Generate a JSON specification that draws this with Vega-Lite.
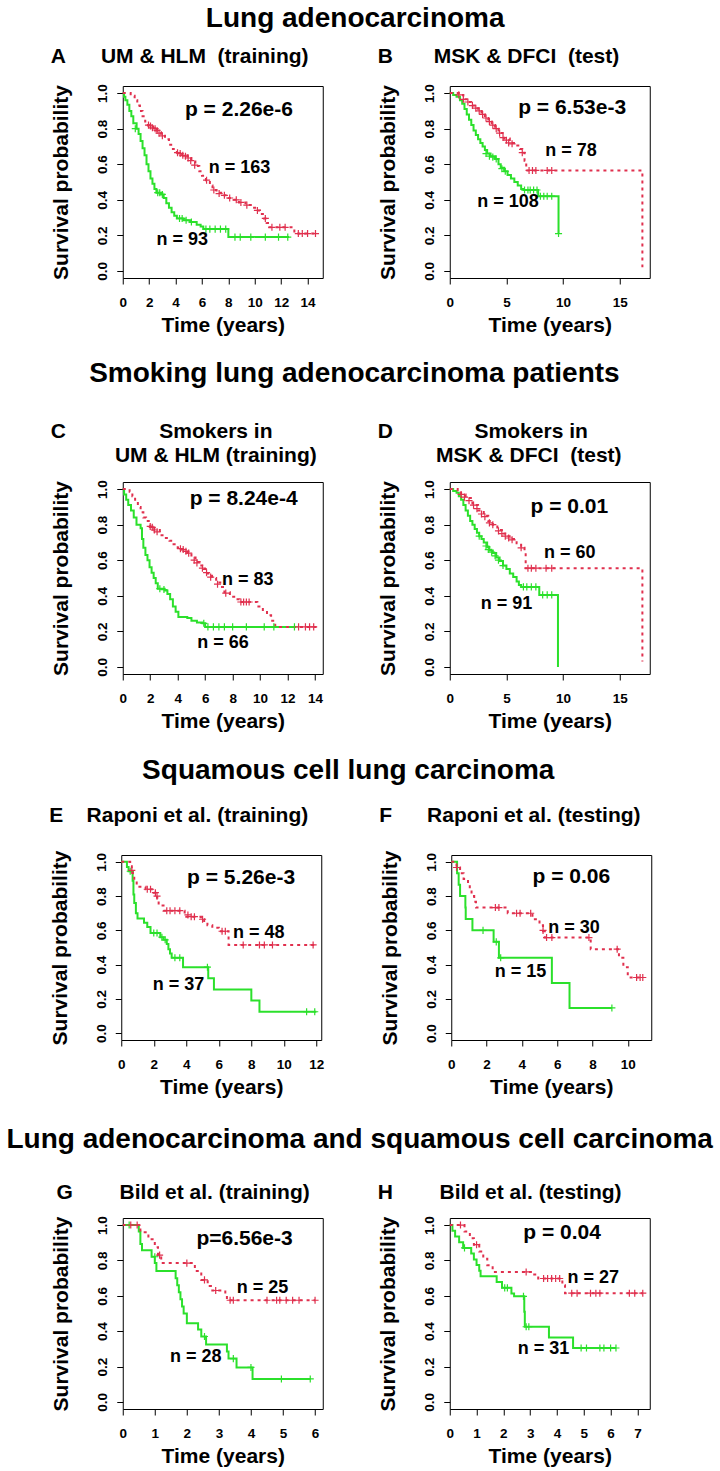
{
"$schema": "https://vega.github.io/schema/vega-lite/v6.json",
"padding": {"left": 6, "right": 4, "top": 5, "bottom": 5},
"config": {
 "font": "Liberation Sans",
 "view": {"stroke": "#000", "strokeWidth": 1},
 "axis": {"domain": false, "grid": false, "tickColor": "#000", "tickSize": 6, "labelFont": "Liberation Sans", "labelFontWeight": "bold", "labelFontSize": 13.5, "labelColor": "#000", "titleFont": "Liberation Sans", "titleFontWeight": "bold", "titleFontSize": 21, "titleColor": "#000", "labelOverlap": false, "labelFlush": false},
 "axisX": {"labelPadding": 11, "titlePadding": 6},
 "axisY": {"labelAngle": -90, "labelAlign": "center", "labelBaseline": "bottom", "labelPadding": 7, "titlePadding": 24},
 "title": {"font": "Liberation Sans", "fontWeight": "bold", "color": "#000"}
},
"datasets": {
"km": [
{"p":"A","g":"H","t":0,"s":1},{"p":"A","g":"H","t":0.1,"s":0.98},{"p":"A","g":"H","t":0.2,"s":0.96},{"p":"A","g":"H","t":0.35,"s":0.935},{"p":"A","g":"H","t":0.5,"s":0.9},{"p":"A","g":"H","t":0.65,"s":0.87},{"p":"A","g":"H","t":0.8,"s":0.83},{"p":"A","g":"H","t":1.05,"s":0.8},{"p":"A","g":"H","t":1.2,"s":0.77},{"p":"A","g":"H","t":1.35,"s":0.73},{"p":"A","g":"H","t":1.5,"s":0.69},{"p":"A","g":"H","t":1.65,"s":0.65},{"p":"A","g":"H","t":1.8,"s":0.6},{"p":"A","g":"H","t":1.95,"s":0.56},{"p":"A","g":"H","t":2.1,"s":0.52},{"p":"A","g":"H","t":2.25,"s":0.49},{"p":"A","g":"H","t":2.4,"s":0.46},{"p":"A","g":"H","t":2.55,"s":0.44},{"p":"A","g":"H","t":2.9,"s":0.43},{"p":"A","g":"H","t":3.1,"s":0.41},{"p":"A","g":"H","t":3.3,"s":0.38},{"p":"A","g":"H","t":3.5,"s":0.355},{"p":"A","g":"H","t":3.7,"s":0.33},{"p":"A","g":"H","t":3.9,"s":0.31},{"p":"A","g":"H","t":4.1,"s":0.295},{"p":"A","g":"H","t":4.6,"s":0.285},{"p":"A","g":"H","t":5.1,"s":0.275},{"p":"A","g":"H","t":5.6,"s":0.26},{"p":"A","g":"H","t":5.9,"s":0.25},{"p":"A","g":"H","t":6.1,"s":0.235},{"p":"A","g":"H","t":8.0,"s":0.19},{"p":"A","g":"H","t":12.6,"s":0.19},
{"p":"A","g":"L","t":0,"s":1},{"p":"A","g":"L","t":0.6,"s":0.985},{"p":"A","g":"L","t":0.9,"s":0.96},{"p":"A","g":"L","t":1.1,"s":0.93},{"p":"A","g":"L","t":1.3,"s":0.9},{"p":"A","g":"L","t":1.5,"s":0.87},{"p":"A","g":"L","t":1.7,"s":0.84},{"p":"A","g":"L","t":1.9,"s":0.82},{"p":"A","g":"L","t":2.3,"s":0.8},{"p":"A","g":"L","t":2.6,"s":0.78},{"p":"A","g":"L","t":2.9,"s":0.76},{"p":"A","g":"L","t":3.2,"s":0.74},{"p":"A","g":"L","t":3.5,"s":0.71},{"p":"A","g":"L","t":3.8,"s":0.685},{"p":"A","g":"L","t":4.1,"s":0.665},{"p":"A","g":"L","t":4.5,"s":0.65},{"p":"A","g":"L","t":4.9,"s":0.635},{"p":"A","g":"L","t":5.2,"s":0.615},{"p":"A","g":"L","t":5.5,"s":0.59},{"p":"A","g":"L","t":5.8,"s":0.56},{"p":"A","g":"L","t":6.0,"s":0.535},{"p":"A","g":"L","t":6.3,"s":0.51},{"p":"A","g":"L","t":6.6,"s":0.48},{"p":"A","g":"L","t":6.8,"s":0.455},{"p":"A","g":"L","t":7.1,"s":0.44},{"p":"A","g":"L","t":7.6,"s":0.425},{"p":"A","g":"L","t":8.0,"s":0.41},{"p":"A","g":"L","t":8.4,"s":0.4},{"p":"A","g":"L","t":8.8,"s":0.385},{"p":"A","g":"L","t":9.3,"s":0.37},{"p":"A","g":"L","t":9.7,"s":0.355},{"p":"A","g":"L","t":10.1,"s":0.34},{"p":"A","g":"L","t":10.4,"s":0.32},{"p":"A","g":"L","t":10.7,"s":0.295},{"p":"A","g":"L","t":10.9,"s":0.27},{"p":"A","g":"L","t":11.1,"s":0.245},{"p":"A","g":"L","t":13.0,"s":0.21},{"p":"A","g":"L","t":14.6,"s":0.21},
{"p":"B","g":"H","t":0,"s":1},{"p":"B","g":"H","t":0.3,"s":0.99},{"p":"B","g":"H","t":0.6,"s":0.98},{"p":"B","g":"H","t":0.9,"s":0.96},{"p":"B","g":"H","t":1.1,"s":0.94},{"p":"B","g":"H","t":1.3,"s":0.91},{"p":"B","g":"H","t":1.5,"s":0.88},{"p":"B","g":"H","t":1.7,"s":0.85},{"p":"B","g":"H","t":1.9,"s":0.82},{"p":"B","g":"H","t":2.1,"s":0.79},{"p":"B","g":"H","t":2.3,"s":0.765},{"p":"B","g":"H","t":2.5,"s":0.74},{"p":"B","g":"H","t":2.7,"s":0.72},{"p":"B","g":"H","t":2.9,"s":0.7},{"p":"B","g":"H","t":3.1,"s":0.68},{"p":"B","g":"H","t":3.3,"s":0.66},{"p":"B","g":"H","t":3.6,"s":0.645},{"p":"B","g":"H","t":4.0,"s":0.63},{"p":"B","g":"H","t":4.3,"s":0.6},{"p":"B","g":"H","t":4.5,"s":0.58},{"p":"B","g":"H","t":4.8,"s":0.56},{"p":"B","g":"H","t":5.1,"s":0.54},{"p":"B","g":"H","t":5.4,"s":0.52},{"p":"B","g":"H","t":5.7,"s":0.5},{"p":"B","g":"H","t":6.0,"s":0.48},{"p":"B","g":"H","t":6.3,"s":0.46},{"p":"B","g":"H","t":6.5,"s":0.455},{"p":"B","g":"H","t":7.8,"s":0.42},{"p":"B","g":"H","t":9.6,"s":0.21},
{"p":"B","g":"L","t":0,"s":1},{"p":"B","g":"L","t":0.8,"s":0.99},{"p":"B","g":"L","t":1.2,"s":0.965},{"p":"B","g":"L","t":1.5,"s":0.95},{"p":"B","g":"L","t":1.9,"s":0.93},{"p":"B","g":"L","t":2.2,"s":0.915},{"p":"B","g":"L","t":2.5,"s":0.9},{"p":"B","g":"L","t":2.8,"s":0.88},{"p":"B","g":"L","t":3.1,"s":0.86},{"p":"B","g":"L","t":3.4,"s":0.84},{"p":"B","g":"L","t":3.7,"s":0.82},{"p":"B","g":"L","t":4.0,"s":0.8},{"p":"B","g":"L","t":4.3,"s":0.775},{"p":"B","g":"L","t":4.8,"s":0.745},{"p":"B","g":"L","t":5.3,"s":0.72},{"p":"B","g":"L","t":5.8,"s":0.705},{"p":"B","g":"L","t":6.2,"s":0.685},{"p":"B","g":"L","t":6.4,"s":0.665},{"p":"B","g":"L","t":6.6,"s":0.62},{"p":"B","g":"L","t":6.75,"s":0.565},{"p":"B","g":"L","t":17.0,"s":0.02},
{"p":"C","g":"H","t":0,"s":1},{"p":"C","g":"H","t":0.1,"s":0.97},{"p":"C","g":"H","t":0.25,"s":0.94},{"p":"C","g":"H","t":0.4,"s":0.91},{"p":"C","g":"H","t":0.6,"s":0.88},{"p":"C","g":"H","t":0.8,"s":0.84},{"p":"C","g":"H","t":1.0,"s":0.8},{"p":"C","g":"H","t":1.3,"s":0.78},{"p":"C","g":"H","t":1.4,"s":0.72},{"p":"C","g":"H","t":1.5,"s":0.67},{"p":"C","g":"H","t":1.65,"s":0.63},{"p":"C","g":"H","t":1.8,"s":0.6},{"p":"C","g":"H","t":1.95,"s":0.56},{"p":"C","g":"H","t":2.1,"s":0.53},{"p":"C","g":"H","t":2.25,"s":0.5},{"p":"C","g":"H","t":2.4,"s":0.47},{"p":"C","g":"H","t":2.55,"s":0.44},{"p":"C","g":"H","t":3.05,"s":0.43},{"p":"C","g":"H","t":3.25,"s":0.41},{"p":"C","g":"H","t":3.45,"s":0.38},{"p":"C","g":"H","t":3.65,"s":0.34},{"p":"C","g":"H","t":3.85,"s":0.31},{"p":"C","g":"H","t":4.05,"s":0.28},{"p":"C","g":"H","t":4.7,"s":0.275},{"p":"C","g":"H","t":5.0,"s":0.26},{"p":"C","g":"H","t":5.4,"s":0.25},{"p":"C","g":"H","t":5.8,"s":0.245},{"p":"C","g":"H","t":6.0,"s":0.225},{"p":"C","g":"H","t":12.5,"s":0.225},
{"p":"C","g":"L","t":0,"s":1},{"p":"C","g":"L","t":0.5,"s":0.985},{"p":"C","g":"L","t":0.7,"s":0.96},{"p":"C","g":"L","t":0.9,"s":0.93},{"p":"C","g":"L","t":1.1,"s":0.9},{"p":"C","g":"L","t":1.3,"s":0.87},{"p":"C","g":"L","t":1.5,"s":0.84},{"p":"C","g":"L","t":1.7,"s":0.82},{"p":"C","g":"L","t":2.0,"s":0.79},{"p":"C","g":"L","t":2.3,"s":0.77},{"p":"C","g":"L","t":2.7,"s":0.74},{"p":"C","g":"L","t":3.0,"s":0.725},{"p":"C","g":"L","t":3.4,"s":0.71},{"p":"C","g":"L","t":3.7,"s":0.69},{"p":"C","g":"L","t":4.0,"s":0.67},{"p":"C","g":"L","t":4.3,"s":0.66},{"p":"C","g":"L","t":4.7,"s":0.64},{"p":"C","g":"L","t":5.0,"s":0.615},{"p":"C","g":"L","t":5.3,"s":0.59},{"p":"C","g":"L","t":5.6,"s":0.57},{"p":"C","g":"L","t":5.9,"s":0.55},{"p":"C","g":"L","t":6.2,"s":0.525},{"p":"C","g":"L","t":6.5,"s":0.5},{"p":"C","g":"L","t":6.8,"s":0.475},{"p":"C","g":"L","t":7.1,"s":0.45},{"p":"C","g":"L","t":7.4,"s":0.42},{"p":"C","g":"L","t":7.8,"s":0.395},{"p":"C","g":"L","t":8.2,"s":0.38},{"p":"C","g":"L","t":8.5,"s":0.365},{"p":"C","g":"L","t":9.8,"s":0.34},{"p":"C","g":"L","t":10.2,"s":0.32},{"p":"C","g":"L","t":10.5,"s":0.29},{"p":"C","g":"L","t":10.8,"s":0.26},{"p":"C","g":"L","t":11.1,"s":0.225},{"p":"C","g":"L","t":14.1,"s":0.225},
{"p":"D","g":"H","t":0,"s":1},{"p":"D","g":"H","t":0.3,"s":0.99},{"p":"D","g":"H","t":0.6,"s":0.98},{"p":"D","g":"H","t":0.8,"s":0.96},{"p":"D","g":"H","t":1.0,"s":0.94},{"p":"D","g":"H","t":1.2,"s":0.91},{"p":"D","g":"H","t":1.4,"s":0.88},{"p":"D","g":"H","t":1.6,"s":0.85},{"p":"D","g":"H","t":1.8,"s":0.82},{"p":"D","g":"H","t":2.0,"s":0.8},{"p":"D","g":"H","t":2.2,"s":0.775},{"p":"D","g":"H","t":2.4,"s":0.755},{"p":"D","g":"H","t":2.6,"s":0.735},{"p":"D","g":"H","t":2.8,"s":0.72},{"p":"D","g":"H","t":3.0,"s":0.7},{"p":"D","g":"H","t":3.3,"s":0.675},{"p":"D","g":"H","t":3.5,"s":0.655},{"p":"D","g":"H","t":3.8,"s":0.64},{"p":"D","g":"H","t":4.1,"s":0.615},{"p":"D","g":"H","t":4.4,"s":0.595},{"p":"D","g":"H","t":4.7,"s":0.57},{"p":"D","g":"H","t":5.0,"s":0.55},{"p":"D","g":"H","t":5.3,"s":0.525},{"p":"D","g":"H","t":5.6,"s":0.505},{"p":"D","g":"H","t":5.9,"s":0.48},{"p":"D","g":"H","t":6.1,"s":0.46},{"p":"D","g":"H","t":6.3,"s":0.45},{"p":"D","g":"H","t":7.9,"s":0.405},{"p":"D","g":"H","t":9.55,"s":0},
{"p":"D","g":"L","t":0,"s":1},{"p":"D","g":"L","t":0.7,"s":0.985},{"p":"D","g":"L","t":1.0,"s":0.97},{"p":"D","g":"L","t":1.4,"s":0.95},{"p":"D","g":"L","t":2.0,"s":0.91},{"p":"D","g":"L","t":2.5,"s":0.88},{"p":"D","g":"L","t":3.0,"s":0.85},{"p":"D","g":"L","t":3.4,"s":0.82},{"p":"D","g":"L","t":3.8,"s":0.8},{"p":"D","g":"L","t":4.2,"s":0.77},{"p":"D","g":"L","t":4.6,"s":0.75},{"p":"D","g":"L","t":5.0,"s":0.735},{"p":"D","g":"L","t":5.4,"s":0.72},{"p":"D","g":"L","t":5.9,"s":0.695},{"p":"D","g":"L","t":6.3,"s":0.67},{"p":"D","g":"L","t":6.6,"s":0.64},{"p":"D","g":"L","t":6.7,"s":0.555},{"p":"D","g":"L","t":17.0,"s":0.03},
{"p":"E","g":"H","t":0,"s":1},{"p":"E","g":"H","t":0.35,"s":0.97},{"p":"E","g":"H","t":0.45,"s":0.945},{"p":"E","g":"H","t":0.7,"s":0.89},{"p":"E","g":"H","t":0.75,"s":0.81},{"p":"E","g":"H","t":0.8,"s":0.76},{"p":"E","g":"H","t":0.9,"s":0.7},{"p":"E","g":"H","t":1.0,"s":0.67},{"p":"E","g":"H","t":1.4,"s":0.645},{"p":"E","g":"H","t":1.6,"s":0.62},{"p":"E","g":"H","t":1.8,"s":0.585},{"p":"E","g":"H","t":2.4,"s":0.56},{"p":"E","g":"H","t":2.6,"s":0.545},{"p":"E","g":"H","t":2.8,"s":0.52},{"p":"E","g":"H","t":2.9,"s":0.49},{"p":"E","g":"H","t":3.0,"s":0.465},{"p":"E","g":"H","t":3.1,"s":0.44},{"p":"E","g":"H","t":3.8,"s":0.385},{"p":"E","g":"H","t":5.35,"s":0.32},{"p":"E","g":"H","t":5.7,"s":0.255},{"p":"E","g":"H","t":8.0,"s":0.19},{"p":"E","g":"H","t":8.5,"s":0.125},{"p":"E","g":"H","t":12.0,"s":0.125},
{"p":"E","g":"L","t":0,"s":1},{"p":"E","g":"L","t":0.55,"s":0.975},{"p":"E","g":"L","t":0.65,"s":0.95},{"p":"E","g":"L","t":0.72,"s":0.915},{"p":"E","g":"L","t":0.8,"s":0.88},{"p":"E","g":"L","t":0.95,"s":0.855},{"p":"E","g":"L","t":1.5,"s":0.84},{"p":"E","g":"L","t":2.0,"s":0.82},{"p":"E","g":"L","t":2.2,"s":0.79},{"p":"E","g":"L","t":2.3,"s":0.745},{"p":"E","g":"L","t":2.6,"s":0.715},{"p":"E","g":"L","t":3.9,"s":0.69},{"p":"E","g":"L","t":4.0,"s":0.68},{"p":"E","g":"L","t":4.9,"s":0.665},{"p":"E","g":"L","t":5.1,"s":0.645},{"p":"E","g":"L","t":5.3,"s":0.63},{"p":"E","g":"L","t":5.6,"s":0.615},{"p":"E","g":"L","t":6.0,"s":0.595},{"p":"E","g":"L","t":6.6,"s":0.515},{"p":"E","g":"L","t":11.9,"s":0.515},
{"p":"F","g":"H","t":0,"s":1},{"p":"F","g":"H","t":0.33,"s":0.933},{"p":"F","g":"H","t":0.42,"s":0.867},{"p":"F","g":"H","t":0.5,"s":0.8},{"p":"F","g":"H","t":0.8,"s":0.733},{"p":"F","g":"H","t":0.82,"s":0.667},{"p":"F","g":"H","t":1.2,"s":0.6},{"p":"F","g":"H","t":2.4,"s":0.533},{"p":"F","g":"H","t":2.7,"s":0.44},{"p":"F","g":"H","t":5.7,"s":0.293},{"p":"F","g":"H","t":6.7,"s":0.147},{"p":"F","g":"H","t":9.1,"s":0.147},
{"p":"F","g":"L","t":0,"s":1},{"p":"F","g":"L","t":0.3,"s":0.967},{"p":"F","g":"L","t":0.5,"s":0.933},{"p":"F","g":"L","t":0.7,"s":0.9},{"p":"F","g":"L","t":0.95,"s":0.867},{"p":"F","g":"L","t":1.05,"s":0.833},{"p":"F","g":"L","t":1.15,"s":0.8},{"p":"F","g":"L","t":1.3,"s":0.767},{"p":"F","g":"L","t":1.4,"s":0.733},{"p":"F","g":"L","t":3.2,"s":0.7},{"p":"F","g":"L","t":4.6,"s":0.665},{"p":"F","g":"L","t":5.0,"s":0.63},{"p":"F","g":"L","t":5.2,"s":0.595},{"p":"F","g":"L","t":5.3,"s":0.558},{"p":"F","g":"L","t":7.9,"s":0.49},{"p":"F","g":"L","t":9.5,"s":0.44},{"p":"F","g":"L","t":9.75,"s":0.385},{"p":"F","g":"L","t":10.0,"s":0.325},{"p":"F","g":"L","t":10.9,"s":0.325},
{"p":"G","g":"H","t":0,"s":1},{"p":"G","g":"H","t":0.5,"s":0.964},{"p":"G","g":"H","t":0.55,"s":0.893},{"p":"G","g":"H","t":0.6,"s":0.857},{"p":"G","g":"H","t":0.9,"s":0.821},{"p":"G","g":"H","t":1.0,"s":0.786},{"p":"G","g":"H","t":1.05,"s":0.74},{"p":"G","g":"H","t":1.65,"s":0.7},{"p":"G","g":"H","t":1.7,"s":0.66},{"p":"G","g":"H","t":1.75,"s":0.62},{"p":"G","g":"H","t":1.8,"s":0.58},{"p":"G","g":"H","t":1.85,"s":0.54},{"p":"G","g":"H","t":1.9,"s":0.5},{"p":"G","g":"H","t":2.0,"s":0.445},{"p":"G","g":"H","t":2.35,"s":0.41},{"p":"G","g":"H","t":2.45,"s":0.37},{"p":"G","g":"H","t":2.6,"s":0.325},{"p":"G","g":"H","t":3.25,"s":0.285},{"p":"G","g":"H","t":3.3,"s":0.245},{"p":"G","g":"H","t":3.55,"s":0.195},{"p":"G","g":"H","t":4.05,"s":0.13},{"p":"G","g":"H","t":5.85,"s":0.13},
{"p":"G","g":"L","t":0,"s":1},{"p":"G","g":"L","t":0.55,"s":0.96},{"p":"G","g":"L","t":0.8,"s":0.92},{"p":"G","g":"L","t":1.0,"s":0.875},{"p":"G","g":"L","t":1.1,"s":0.83},{"p":"G","g":"L","t":1.2,"s":0.785},{"p":"G","g":"L","t":2.25,"s":0.74},{"p":"G","g":"L","t":2.45,"s":0.69},{"p":"G","g":"L","t":2.65,"s":0.655},{"p":"G","g":"L","t":2.75,"s":0.63},{"p":"G","g":"L","t":3.2,"s":0.6},{"p":"G","g":"L","t":3.25,"s":0.575},{"p":"G","g":"L","t":6.0,"s":0.575},
{"p":"H","g":"H","t":0,"s":1},{"p":"H","g":"H","t":0.1,"s":0.968},{"p":"H","g":"H","t":0.2,"s":0.935},{"p":"H","g":"H","t":0.35,"s":0.903},{"p":"H","g":"H","t":0.5,"s":0.871},{"p":"H","g":"H","t":0.8,"s":0.839},{"p":"H","g":"H","t":0.9,"s":0.806},{"p":"H","g":"H","t":1.0,"s":0.774},{"p":"H","g":"H","t":1.1,"s":0.742},{"p":"H","g":"H","t":1.15,"s":0.71},{"p":"H","g":"H","t":1.75,"s":0.678},{"p":"H","g":"H","t":1.95,"s":0.645},{"p":"H","g":"H","t":2.3,"s":0.613},{"p":"H","g":"H","t":2.4,"s":0.597},{"p":"H","g":"H","t":2.78,"s":0.51},{"p":"H","g":"H","t":2.8,"s":0.425},{"p":"H","g":"H","t":3.7,"s":0.365},{"p":"H","g":"H","t":4.6,"s":0.305},{"p":"H","g":"H","t":6.2,"s":0.305},
{"p":"H","g":"L","t":0,"s":1},{"p":"H","g":"L","t":0.55,"s":0.963},{"p":"H","g":"L","t":0.75,"s":0.926},{"p":"H","g":"L","t":0.9,"s":0.889},{"p":"H","g":"L","t":1.1,"s":0.85},{"p":"H","g":"L","t":1.25,"s":0.81},{"p":"H","g":"L","t":1.4,"s":0.773},{"p":"H","g":"L","t":1.6,"s":0.735},{"p":"H","g":"L","t":3.1,"s":0.72},{"p":"H","g":"L","t":3.3,"s":0.698},{"p":"H","g":"L","t":4.2,"s":0.66},{"p":"H","g":"L","t":4.3,"s":0.615},{"p":"H","g":"L","t":7.2,"s":0.615}
],
"cens": [
{"p":"A","g":"H","t":0.95,"s":0.8},{"p":"A","g":"H","t":2.65,"s":0.44},{"p":"A","g":"H","t":2.8,"s":0.44},{"p":"A","g":"H","t":3.0,"s":0.43},{"p":"A","g":"H","t":4.3,"s":0.295},{"p":"A","g":"H","t":4.5,"s":0.295},{"p":"A","g":"H","t":4.8,"s":0.285},{"p":"A","g":"H","t":5.2,"s":0.275},{"p":"A","g":"H","t":6.3,"s":0.235},{"p":"A","g":"H","t":6.6,"s":0.235},{"p":"A","g":"H","t":7.0,"s":0.235},{"p":"A","g":"H","t":7.4,"s":0.235},{"p":"A","g":"H","t":7.8,"s":0.235},{"p":"A","g":"H","t":8.5,"s":0.19},{"p":"A","g":"H","t":8.9,"s":0.19},{"p":"A","g":"H","t":9.7,"s":0.19},{"p":"A","g":"H","t":10.8,"s":0.19},{"p":"A","g":"H","t":11.8,"s":0.19},{"p":"A","g":"H","t":12.5,"s":0.19},
{"p":"A","g":"L","t":1.95,"s":0.82},{"p":"A","g":"L","t":2.1,"s":0.815},{"p":"A","g":"L","t":2.25,"s":0.805},{"p":"A","g":"L","t":2.45,"s":0.8},{"p":"A","g":"L","t":2.6,"s":0.79},{"p":"A","g":"L","t":2.75,"s":0.775},{"p":"A","g":"L","t":3.0,"s":0.76},{"p":"A","g":"L","t":4.15,"s":0.665},{"p":"A","g":"L","t":4.35,"s":0.66},{"p":"A","g":"L","t":4.55,"s":0.65},{"p":"A","g":"L","t":4.75,"s":0.645},{"p":"A","g":"L","t":4.95,"s":0.635},{"p":"A","g":"L","t":5.15,"s":0.62},{"p":"A","g":"L","t":5.45,"s":0.595},{"p":"A","g":"L","t":6.35,"s":0.51},{"p":"A","g":"L","t":6.9,"s":0.455},{"p":"A","g":"L","t":7.3,"s":0.435},{"p":"A","g":"L","t":7.7,"s":0.425},{"p":"A","g":"L","t":8.1,"s":0.41},{"p":"A","g":"L","t":8.6,"s":0.4},{"p":"A","g":"L","t":8.95,"s":0.385},{"p":"A","g":"L","t":9.4,"s":0.37},{"p":"A","g":"L","t":10.2,"s":0.34},{"p":"A","g":"L","t":10.8,"s":0.295},{"p":"A","g":"L","t":11.3,"s":0.245},{"p":"A","g":"L","t":11.9,"s":0.245},{"p":"A","g":"L","t":12.3,"s":0.245},{"p":"A","g":"L","t":13.3,"s":0.21},{"p":"A","g":"L","t":13.6,"s":0.21},{"p":"A","g":"L","t":14.0,"s":0.21},{"p":"A","g":"L","t":14.6,"s":0.21},
{"p":"B","g":"H","t":3.2,"s":0.66},{"p":"B","g":"H","t":3.5,"s":0.645},{"p":"B","g":"H","t":3.8,"s":0.64},{"p":"B","g":"H","t":4.1,"s":0.63},{"p":"B","g":"H","t":4.6,"s":0.575},{"p":"B","g":"H","t":4.9,"s":0.56},{"p":"B","g":"H","t":6.6,"s":0.455},{"p":"B","g":"H","t":6.9,"s":0.455},{"p":"B","g":"H","t":7.1,"s":0.455},{"p":"B","g":"H","t":7.4,"s":0.455},{"p":"B","g":"H","t":7.7,"s":0.455},{"p":"B","g":"H","t":8.0,"s":0.42},{"p":"B","g":"H","t":8.3,"s":0.42},{"p":"B","g":"H","t":8.6,"s":0.42},{"p":"B","g":"H","t":9.0,"s":0.42},{"p":"B","g":"H","t":9.6,"s":0.21},
{"p":"B","g":"L","t":0.8,"s":0.99},{"p":"B","g":"L","t":1.2,"s":0.965},{"p":"B","g":"L","t":1.6,"s":0.95},{"p":"B","g":"L","t":2.0,"s":0.93},{"p":"B","g":"L","t":2.3,"s":0.915},{"p":"B","g":"L","t":2.6,"s":0.9},{"p":"B","g":"L","t":2.9,"s":0.88},{"p":"B","g":"L","t":3.2,"s":0.86},{"p":"B","g":"L","t":3.5,"s":0.84},{"p":"B","g":"L","t":3.8,"s":0.82},{"p":"B","g":"L","t":4.1,"s":0.8},{"p":"B","g":"L","t":4.4,"s":0.775},{"p":"B","g":"L","t":4.7,"s":0.75},{"p":"B","g":"L","t":5.0,"s":0.735},{"p":"B","g":"L","t":5.2,"s":0.72},{"p":"B","g":"L","t":5.5,"s":0.715},{"p":"B","g":"L","t":6.4,"s":0.665},{"p":"B","g":"L","t":7.0,"s":0.565},{"p":"B","g":"L","t":7.3,"s":0.565},{"p":"B","g":"L","t":7.6,"s":0.565},{"p":"B","g":"L","t":8.6,"s":0.565},{"p":"B","g":"L","t":9.0,"s":0.565},
{"p":"C","g":"H","t":2.7,"s":0.44},{"p":"C","g":"H","t":3.0,"s":0.435},{"p":"C","g":"H","t":5.9,"s":0.245},{"p":"C","g":"H","t":6.2,"s":0.225},{"p":"C","g":"H","t":6.6,"s":0.225},{"p":"C","g":"H","t":7.0,"s":0.225},{"p":"C","g":"H","t":7.4,"s":0.225},{"p":"C","g":"H","t":8.0,"s":0.225},{"p":"C","g":"H","t":9.0,"s":0.225},{"p":"C","g":"H","t":10.3,"s":0.225},{"p":"C","g":"H","t":11.0,"s":0.225},{"p":"C","g":"H","t":12.5,"s":0.225},
{"p":"C","g":"L","t":2.0,"s":0.79},{"p":"C","g":"L","t":2.15,"s":0.785},{"p":"C","g":"L","t":2.3,"s":0.77},{"p":"C","g":"L","t":2.5,"s":0.76},{"p":"C","g":"L","t":4.2,"s":0.665},{"p":"C","g":"L","t":4.4,"s":0.66},{"p":"C","g":"L","t":4.6,"s":0.65},{"p":"C","g":"L","t":4.8,"s":0.64},{"p":"C","g":"L","t":5.2,"s":0.6},{"p":"C","g":"L","t":5.4,"s":0.585},{"p":"C","g":"L","t":5.8,"s":0.555},{"p":"C","g":"L","t":6.1,"s":0.53},{"p":"C","g":"L","t":6.4,"s":0.505},{"p":"C","g":"L","t":6.9,"s":0.465},{"p":"C","g":"L","t":7.5,"s":0.415},{"p":"C","g":"L","t":8.6,"s":0.365},{"p":"C","g":"L","t":8.8,"s":0.365},{"p":"C","g":"L","t":9.0,"s":0.365},{"p":"C","g":"L","t":9.2,"s":0.365},{"p":"C","g":"L","t":12.8,"s":0.225},{"p":"C","g":"L","t":13.3,"s":0.225},{"p":"C","g":"L","t":13.6,"s":0.225},{"p":"C","g":"L","t":13.9,"s":0.225},
{"p":"D","g":"H","t":2.6,"s":0.735},{"p":"D","g":"H","t":3.2,"s":0.68},{"p":"D","g":"H","t":3.4,"s":0.66},{"p":"D","g":"H","t":3.7,"s":0.645},{"p":"D","g":"H","t":4.0,"s":0.625},{"p":"D","g":"H","t":4.3,"s":0.6},{"p":"D","g":"H","t":4.7,"s":0.57},{"p":"D","g":"H","t":6.5,"s":0.45},{"p":"D","g":"H","t":6.8,"s":0.45},{"p":"D","g":"H","t":7.2,"s":0.45},{"p":"D","g":"H","t":7.6,"s":0.45},{"p":"D","g":"H","t":8.2,"s":0.405},{"p":"D","g":"H","t":8.6,"s":0.405},{"p":"D","g":"H","t":9.0,"s":0.405},
{"p":"D","g":"L","t":1.0,"s":0.97},{"p":"D","g":"L","t":1.3,"s":0.955},{"p":"D","g":"L","t":1.7,"s":0.935},{"p":"D","g":"L","t":2.1,"s":0.91},{"p":"D","g":"L","t":2.4,"s":0.89},{"p":"D","g":"L","t":2.8,"s":0.86},{"p":"D","g":"L","t":3.1,"s":0.845},{"p":"D","g":"L","t":3.5,"s":0.81},{"p":"D","g":"L","t":3.8,"s":0.8},{"p":"D","g":"L","t":4.3,"s":0.765},{"p":"D","g":"L","t":4.6,"s":0.75},{"p":"D","g":"L","t":4.9,"s":0.735},{"p":"D","g":"L","t":5.2,"s":0.725},{"p":"D","g":"L","t":5.5,"s":0.715},{"p":"D","g":"L","t":6.3,"s":0.67},{"p":"D","g":"L","t":6.9,"s":0.555},{"p":"D","g":"L","t":7.2,"s":0.555},{"p":"D","g":"L","t":7.6,"s":0.555},{"p":"D","g":"L","t":8.5,"s":0.555},{"p":"D","g":"L","t":9.0,"s":0.555},
{"p":"E","g":"H","t":0.55,"s":0.945},{"p":"E","g":"H","t":2.0,"s":0.585},{"p":"E","g":"H","t":2.2,"s":0.585},{"p":"E","g":"H","t":2.5,"s":0.56},{"p":"E","g":"H","t":2.7,"s":0.545},{"p":"E","g":"H","t":3.3,"s":0.44},{"p":"E","g":"H","t":3.6,"s":0.44},{"p":"E","g":"H","t":5.3,"s":0.385},{"p":"E","g":"H","t":11.4,"s":0.125},{"p":"E","g":"H","t":11.9,"s":0.125},
{"p":"E","g":"L","t":0.65,"s":0.95},{"p":"E","g":"L","t":1.6,"s":0.84},{"p":"E","g":"L","t":1.8,"s":0.84},{"p":"E","g":"L","t":2.1,"s":0.82},{"p":"E","g":"L","t":2.2,"s":0.8},{"p":"E","g":"L","t":2.8,"s":0.715},{"p":"E","g":"L","t":3.0,"s":0.715},{"p":"E","g":"L","t":3.3,"s":0.715},{"p":"E","g":"L","t":3.6,"s":0.715},{"p":"E","g":"L","t":4.1,"s":0.69},{"p":"E","g":"L","t":4.3,"s":0.68},{"p":"E","g":"L","t":4.5,"s":0.68},{"p":"E","g":"L","t":5.0,"s":0.665},{"p":"E","g":"L","t":6.2,"s":0.595},{"p":"E","g":"L","t":6.4,"s":0.595},{"p":"E","g":"L","t":7.5,"s":0.515},{"p":"E","g":"L","t":8.5,"s":0.515},{"p":"E","g":"L","t":8.8,"s":0.515},{"p":"E","g":"L","t":9.3,"s":0.515},{"p":"E","g":"L","t":11.8,"s":0.515},
{"p":"F","g":"H","t":1.8,"s":0.6},{"p":"F","g":"H","t":2.55,"s":0.533},{"p":"F","g":"H","t":2.8,"s":0.44},{"p":"F","g":"H","t":9.1,"s":0.147},
{"p":"F","g":"L","t":0.3,"s":0.967},{"p":"F","g":"L","t":2.5,"s":0.733},{"p":"F","g":"L","t":2.7,"s":0.733},{"p":"F","g":"L","t":3.7,"s":0.7},{"p":"F","g":"L","t":3.9,"s":0.7},{"p":"F","g":"L","t":4.5,"s":0.7},{"p":"F","g":"L","t":5.2,"s":0.6},{"p":"F","g":"L","t":5.4,"s":0.558},{"p":"F","g":"L","t":5.7,"s":0.558},{"p":"F","g":"L","t":7.8,"s":0.558},{"p":"F","g":"L","t":9.4,"s":0.49},{"p":"F","g":"L","t":10.5,"s":0.325},{"p":"F","g":"L","t":10.7,"s":0.325},{"p":"F","g":"L","t":10.85,"s":0.325},
{"p":"G","g":"H","t":0.2,"s":1},{"p":"G","g":"H","t":1.0,"s":0.821},{"p":"G","g":"H","t":2.55,"s":0.37},{"p":"G","g":"H","t":3.45,"s":0.245},{"p":"G","g":"H","t":4.0,"s":0.195},{"p":"G","g":"H","t":4.95,"s":0.13},{"p":"G","g":"H","t":5.85,"s":0.13},
{"p":"G","g":"L","t":0.25,"s":1},{"p":"G","g":"L","t":0.45,"s":1},{"p":"G","g":"L","t":1.15,"s":0.83},{"p":"G","g":"L","t":2.0,"s":0.785},{"p":"G","g":"L","t":2.55,"s":0.69},{"p":"G","g":"L","t":2.9,"s":0.63},{"p":"G","g":"L","t":3.35,"s":0.575},{"p":"G","g":"L","t":3.45,"s":0.575},{"p":"G","g":"L","t":4.5,"s":0.575},{"p":"G","g":"L","t":4.8,"s":0.575},{"p":"G","g":"L","t":4.9,"s":0.575},{"p":"G","g":"L","t":5.1,"s":0.575},{"p":"G","g":"L","t":5.3,"s":0.575},{"p":"G","g":"L","t":5.5,"s":0.575},{"p":"G","g":"L","t":6.0,"s":0.575},
{"p":"H","g":"H","t":0.55,"s":0.871},{"p":"H","g":"H","t":2.05,"s":0.645},{"p":"H","g":"H","t":2.15,"s":0.645},{"p":"H","g":"H","t":2.75,"s":0.597},{"p":"H","g":"H","t":2.85,"s":0.425},{"p":"H","g":"H","t":2.95,"s":0.425},{"p":"H","g":"H","t":4.9,"s":0.305},{"p":"H","g":"H","t":5.1,"s":0.305},{"p":"H","g":"H","t":5.6,"s":0.305},{"p":"H","g":"H","t":5.75,"s":0.305},{"p":"H","g":"H","t":6.0,"s":0.305},{"p":"H","g":"H","t":6.2,"s":0.305},
{"p":"H","g":"L","t":0.4,"s":1},{"p":"H","g":"L","t":1.0,"s":0.889},{"p":"H","g":"L","t":2.85,"s":0.735},{"p":"H","g":"L","t":3.5,"s":0.698},{"p":"H","g":"L","t":3.65,"s":0.698},{"p":"H","g":"L","t":3.8,"s":0.698},{"p":"H","g":"L","t":3.95,"s":0.698},{"p":"H","g":"L","t":4.1,"s":0.698},{"p":"H","g":"L","t":4.55,"s":0.615},{"p":"H","g":"L","t":4.75,"s":0.615},{"p":"H","g":"L","t":5.25,"s":0.615},{"p":"H","g":"L","t":5.45,"s":0.615},{"p":"H","g":"L","t":5.6,"s":0.615},{"p":"H","g":"L","t":6.7,"s":0.615},{"p":"H","g":"L","t":6.9,"s":0.615},{"p":"H","g":"L","t":7.2,"s":0.615}
],
"lab": [
{"p":"A","k":"p","t":8.8,"s":0.905,"label":"p = 2.26e-6"},{"p":"A","k":"n","t":8.85,"s":0.577,"label":"n = 163"},{"p":"A","k":"n","t":4.5,"s":0.173,"label":"n = 93"},
{"p":"B","k":"p","t":10.8,"s":0.917,"label":"p = 6.53e-3"},{"p":"B","k":"n","t":10.7,"s":0.672,"label":"n = 78"},{"p":"B","k":"n","t":5.15,"s":0.39,"label":"n = 108"},
{"p":"C","k":"p","t":8.8,"s":0.943,"label":"p = 8.24e-4"},{"p":"C","k":"n","t":9.1,"s":0.49,"label":"n = 83"},{"p":"C","k":"n","t":7.3,"s":0.136,"label":"n = 66"},
{"p":"D","k":"p","t":10.56,"s":0.9,"label":"p = 0.01"},{"p":"D","k":"n","t":10.6,"s":0.638,"label":"n = 60"},{"p":"D","k":"n","t":5.0,"s":0.356,"label":"n = 91"},
{"p":"E","k":"p","t":7.37,"s":0.906,"label":"p = 5.26e-3"},{"p":"E","k":"n","t":8.45,"s":0.585,"label":"n = 48"},{"p":"E","k":"n","t":3.52,"s":0.283,"label":"n = 37"},
{"p":"F","k":"p","t":6.8,"s":0.912,"label":"p = 0.06"},{"p":"F","k":"n","t":6.96,"s":0.611,"label":"n = 30"},{"p":"F","k":"n","t":3.92,"s":0.357,"label":"n = 15"},
{"p":"G","k":"p","t":3.8,"s":0.919,"label":"p=6.56e-3"},{"p":"G","k":"n","t":4.36,"s":0.642,"label":"n = 25"},{"p":"G","k":"n","t":2.28,"s":0.255,"label":"n = 28"},
{"p":"H","k":"p","t":4.19,"s":0.953,"label":"p = 0.04"},{"p":"H","k":"n","t":5.35,"s":0.698,"label":"n = 27"},{"p":"H","k":"n","t":3.5,"s":0.302,"label":"n = 31"}
],
"sections": [
{"label": "Lung adenocarcinoma and squamous cell carcinoma"}
]
},
"center": true,
"spacing": 24,
"vconcat": [
{"title": {"text": "\u200b\u00a0\u00a0\u00a0\u00a0\u00a0\u00a0\u00a0\u00a0\u00a0\u00a0\u00a0\u00a0\u00a0\u00a0\u00a0\u00a0\u00a0\u00a0\u00a0\u00a0Lung adenocarcinoma", "fontSize": 28, "offset": 12, "anchor": "start", "frame": "bounds"},
 "spacing": 53,
 "hconcat": [
  {"width": 200, "height": 192,
   "title": {"text": "A\u00a0\u00a0\u00a0\u00a0\u00a0\u00a0UM & HLM\u00a0\u00a0(training)", "anchor": "start", "frame": "bounds", "fontSize": 21, "offset": 17},
   "encoding": {"x": {"field": "t", "type": "quantitative", "scale": {"domain": [0, 15.15], "nice": false, "zero": false}, "axis": {"values": [0,2,4,6,8,10,12,14], "title": "Time (years)"}},
                "y": {"field": "s", "type": "quantitative", "scale": {"domain": [-0.04, 1.04], "nice": false}, "axis": {"values": [0,0.2,0.4,0.6,0.8,1], "format": ".1f", "title": "Survival probability"}}},
   "layer": [
    {"data": {"name": "km"}, "transform": [{"filter": "datum.p == 'A'"}], "mark": {"type": "line", "interpolate": "step-after", "strokeWidth": 2}, "encoding": {"color": {"field": "g", "type": "nominal", "scale": {"domain": ["H","L"], "range": ["#2be02b","#e0304e"]}, "legend": null}, "strokeDash": {"field": "g", "type": "nominal", "scale": {"domain": ["H","L"], "range": [[1,0],[3,4]]}, "legend": null}}},
    {"data": {"name": "cens"}, "transform": [{"filter": "datum.p == 'A'"}], "mark": {"type": "point", "shape": "M-1,0L1,0M0,-1L0,1", "size": 50, "strokeWidth": 1.2, "opacity": 1}, "encoding": {"color": {"field": "g", "type": "nominal", "scale": {"domain": ["H","L"], "range": ["#2be02b","#e0304e"]}, "legend": null}}},
    {"data": {"name": "lab"}, "transform": [{"filter": "datum.p == 'A'"}], "mark": {"type": "text", "fontWeight": "bold", "color": "#000"}, "encoding": {"text": {"field": "label"}, "size": {"field": "k", "type": "nominal", "scale": {"domain": ["p","n"], "range": [21,18]}, "legend": null}}}
   ]},
  {"width": 200, "height": 192,
   "title": {"text": "B\u00a0\u00a0\u00a0\u00a0\u00a0\u00a0\u00a0MSK & DFCI\u00a0\u00a0(test)", "anchor": "start", "frame": "bounds", "fontSize": 21, "offset": 17},
   "encoding": {"x": {"field": "t", "type": "quantitative", "scale": {"domain": [0, 17.65], "nice": false, "zero": false}, "axis": {"values": [0,5,10,15], "title": "Time (years)"}},
                "y": {"field": "s", "type": "quantitative", "scale": {"domain": [-0.04, 1.04], "nice": false}, "axis": {"values": [0,0.2,0.4,0.6,0.8,1], "format": ".1f", "title": "Survival probability"}}},
   "layer": [
    {"data": {"name": "km"}, "transform": [{"filter": "datum.p == 'B'"}], "mark": {"type": "line", "interpolate": "step-after", "strokeWidth": 2}, "encoding": {"color": {"field": "g", "type": "nominal", "scale": {"domain": ["H","L"], "range": ["#2be02b","#e0304e"]}, "legend": null}, "strokeDash": {"field": "g", "type": "nominal", "scale": {"domain": ["H","L"], "range": [[1,0],[3,4]]}, "legend": null}}},
    {"data": {"name": "cens"}, "transform": [{"filter": "datum.p == 'B'"}], "mark": {"type": "point", "shape": "M-1,0L1,0M0,-1L0,1", "size": 50, "strokeWidth": 1.2, "opacity": 1}, "encoding": {"color": {"field": "g", "type": "nominal", "scale": {"domain": ["H","L"], "range": ["#2be02b","#e0304e"]}, "legend": null}}},
    {"data": {"name": "lab"}, "transform": [{"filter": "datum.p == 'B'"}], "mark": {"type": "text", "fontWeight": "bold", "color": "#000"}, "encoding": {"text": {"field": "label"}, "size": {"field": "k", "type": "nominal", "scale": {"domain": ["p","n"], "range": [21,18]}, "legend": null}}}
   ]}
 ]},
{"title": {"text": "\u200b\u00a0\u00a0\u00a0\u00a0\u00a0Smoking lung adenocarcinoma patients", "fontSize": 28, "offset": 32, "anchor": "start", "frame": "bounds"},
 "spacing": 53,
 "hconcat": [
  {"width": 200, "height": 192,
   "title": {"text": ["C\u00a0\u00a0\u00a0\u00a0\u00a0\u00a0\u00a0\u00a0\u00a0\u00a0\u00a0\u00a0\u00a0\u00a0\u00a0\u00a0Smokers in", "\u200b\u00a0\u00a0\u00a0\u00a0\u00a0\u00a0\u00a0\u00a0\u00a0\u00a0\u00a0UM & HLM (training)"], "anchor": "start", "frame": "bounds", "fontSize": 21, "lineHeight": 24, "offset": 14},
   "encoding": {"x": {"field": "t", "type": "quantitative", "scale": {"domain": [0, 14.56], "nice": false, "zero": false}, "axis": {"values": [0,2,4,6,8,10,12,14], "title": "Time (years)"}},
                "y": {"field": "s", "type": "quantitative", "scale": {"domain": [-0.04, 1.04], "nice": false}, "axis": {"values": [0,0.2,0.4,0.6,0.8,1], "format": ".1f", "title": "Survival probability"}}},
   "layer": [
    {"data": {"name": "km"}, "transform": [{"filter": "datum.p == 'C'"}], "mark": {"type": "line", "interpolate": "step-after", "strokeWidth": 2}, "encoding": {"color": {"field": "g", "type": "nominal", "scale": {"domain": ["H","L"], "range": ["#2be02b","#e0304e"]}, "legend": null}, "strokeDash": {"field": "g", "type": "nominal", "scale": {"domain": ["H","L"], "range": [[1,0],[3,4]]}, "legend": null}}},
    {"data": {"name": "cens"}, "transform": [{"filter": "datum.p == 'C'"}], "mark": {"type": "point", "shape": "M-1,0L1,0M0,-1L0,1", "size": 50, "strokeWidth": 1.2, "opacity": 1}, "encoding": {"color": {"field": "g", "type": "nominal", "scale": {"domain": ["H","L"], "range": ["#2be02b","#e0304e"]}, "legend": null}}},
    {"data": {"name": "lab"}, "transform": [{"filter": "datum.p == 'C'"}], "mark": {"type": "text", "fontWeight": "bold", "color": "#000"}, "encoding": {"text": {"field": "label"}, "size": {"field": "k", "type": "nominal", "scale": {"domain": ["p","n"], "range": [21,18]}, "legend": null}}}
   ]},
  {"width": 200, "height": 192,
   "title": {"text": ["D\u00a0\u00a0\u00a0\u00a0\u00a0\u00a0\u00a0\u00a0\u00a0\u00a0\u00a0\u00a0\u00a0\u00a0Smokers in", "\u200b\u00a0\u00a0\u00a0\u00a0\u00a0\u00a0\u00a0\u00a0\u00a0\u00a0MSK & DFCI\u00a0\u00a0(test)"], "anchor": "start", "frame": "bounds", "fontSize": 21, "lineHeight": 24, "offset": 14},
   "encoding": {"x": {"field": "t", "type": "quantitative", "scale": {"domain": [0, 17.65], "nice": false, "zero": false}, "axis": {"values": [0,5,10,15], "title": "Time (years)"}},
                "y": {"field": "s", "type": "quantitative", "scale": {"domain": [-0.04, 1.04], "nice": false}, "axis": {"values": [0,0.2,0.4,0.6,0.8,1], "format": ".1f", "title": "Survival probability"}}},
   "layer": [
    {"data": {"name": "km"}, "transform": [{"filter": "datum.p == 'D'"}], "mark": {"type": "line", "interpolate": "step-after", "strokeWidth": 2}, "encoding": {"color": {"field": "g", "type": "nominal", "scale": {"domain": ["H","L"], "range": ["#2be02b","#e0304e"]}, "legend": null}, "strokeDash": {"field": "g", "type": "nominal", "scale": {"domain": ["H","L"], "range": [[1,0],[3,4]]}, "legend": null}}},
    {"data": {"name": "cens"}, "transform": [{"filter": "datum.p == 'D'"}], "mark": {"type": "point", "shape": "M-1,0L1,0M0,-1L0,1", "size": 50, "strokeWidth": 1.2, "opacity": 1}, "encoding": {"color": {"field": "g", "type": "nominal", "scale": {"domain": ["H","L"], "range": ["#2be02b","#e0304e"]}, "legend": null}}},
    {"data": {"name": "lab"}, "transform": [{"filter": "datum.p == 'D'"}], "mark": {"type": "text", "fontWeight": "bold", "color": "#000"}, "encoding": {"text": {"field": "label"}, "size": {"field": "k", "type": "nominal", "scale": {"domain": ["p","n"], "range": [21,18]}, "legend": null}}}
   ]}
 ]},
{"title": {"text": "\u200b\u00a0\u00a0\u00a0\u00a0\u00a0\u00a0\u00a0\u00a0\u00a0\u00a0\u00a0\u00a0Squamous cell lung carcinoma", "fontSize": 28, "offset": 20, "anchor": "start", "frame": "bounds"},
 "spacing": 53,
 "hconcat": [
  {"width": 200, "height": 185,
   "title": {"text": "E\u00a0\u00a0\u00a0\u00a0Raponi et al. (training)", "anchor": "start", "frame": "bounds", "fontSize": 21, "offset": 24},
   "encoding": {"x": {"field": "t", "type": "quantitative", "scale": {"domain": [0, 12.3], "nice": false, "zero": false}, "axis": {"values": [0,2,4,6,8,10,12], "title": "Time (years)"}},
                "y": {"field": "s", "type": "quantitative", "scale": {"domain": [-0.04, 1.04], "nice": false}, "axis": {"values": [0,0.2,0.4,0.6,0.8,1], "format": ".1f", "title": "Survival probability"}}},
   "layer": [
    {"data": {"name": "km"}, "transform": [{"filter": "datum.p == 'E'"}], "mark": {"type": "line", "interpolate": "step-after", "strokeWidth": 2}, "encoding": {"color": {"field": "g", "type": "nominal", "scale": {"domain": ["H","L"], "range": ["#2be02b","#e0304e"]}, "legend": null}, "strokeDash": {"field": "g", "type": "nominal", "scale": {"domain": ["H","L"], "range": [[1,0],[3,4]]}, "legend": null}}},
    {"data": {"name": "cens"}, "transform": [{"filter": "datum.p == 'E'"}], "mark": {"type": "point", "shape": "M-1,0L1,0M0,-1L0,1", "size": 50, "strokeWidth": 1.2, "opacity": 1}, "encoding": {"color": {"field": "g", "type": "nominal", "scale": {"domain": ["H","L"], "range": ["#2be02b","#e0304e"]}, "legend": null}}},
    {"data": {"name": "lab"}, "transform": [{"filter": "datum.p == 'E'"}], "mark": {"type": "text", "fontWeight": "bold", "color": "#000"}, "encoding": {"text": {"field": "label"}, "size": {"field": "k", "type": "nominal", "scale": {"domain": ["p","n"], "range": [21,18]}, "legend": null}}}
   ]},
  {"width": 200, "height": 185,
   "title": {"text": "F\u00a0\u00a0\u00a0\u00a0\u00a0\u00a0Raponi et al. (testing)", "anchor": "start", "frame": "bounds", "fontSize": 21, "offset": 24},
   "encoding": {"x": {"field": "t", "type": "quantitative", "scale": {"domain": [0, 11.33], "nice": false, "zero": false}, "axis": {"values": [0,2,4,6,8,10], "title": "Time (years)"}},
                "y": {"field": "s", "type": "quantitative", "scale": {"domain": [-0.04, 1.04], "nice": false}, "axis": {"values": [0,0.2,0.4,0.6,0.8,1], "format": ".1f", "title": "Survival probability"}}},
   "layer": [
    {"data": {"name": "km"}, "transform": [{"filter": "datum.p == 'F'"}], "mark": {"type": "line", "interpolate": "step-after", "strokeWidth": 2}, "encoding": {"color": {"field": "g", "type": "nominal", "scale": {"domain": ["H","L"], "range": ["#2be02b","#e0304e"]}, "legend": null}, "strokeDash": {"field": "g", "type": "nominal", "scale": {"domain": ["H","L"], "range": [[1,0],[3,4]]}, "legend": null}}},
    {"data": {"name": "cens"}, "transform": [{"filter": "datum.p == 'F'"}], "mark": {"type": "point", "shape": "M-1,0L1,0M0,-1L0,1", "size": 50, "strokeWidth": 1.2, "opacity": 1}, "encoding": {"color": {"field": "g", "type": "nominal", "scale": {"domain": ["H","L"], "range": ["#2be02b","#e0304e"]}, "legend": null}}},
    {"data": {"name": "lab"}, "transform": [{"filter": "datum.p == 'F'"}], "mark": {"type": "text", "fontWeight": "bold", "color": "#000"}, "encoding": {"text": {"field": "label"}, "size": {"field": "k", "type": "nominal", "scale": {"domain": ["p","n"], "range": [21,18]}, "legend": null}}}
   ]}
 ]},
{"width": 599, "height": 35, "view": {"stroke": null},
 "data": {"name": "sections"},
 "mark": {"type": "text", "fontSize": 28, "fontWeight": "bold", "font": "Liberation Sans", "color": "#000"},
 "encoding": {"text": {"field": "label"}}},
{"spacing": 53,
 "hconcat": [
  {"width": 200, "height": 191,
   "title": {"text": "\u200b\u00a0G\u00a0\u00a0\u00a0\u00a0\u00a0\u00a0\u00a0\u00a0Bild et al. (training)", "anchor": "start", "frame": "bounds", "fontSize": 21, "offset": 13},
   "encoding": {"x": {"field": "t", "type": "quantitative", "scale": {"domain": [0, 6.24], "nice": false, "zero": false}, "axis": {"values": [0,1,2,3,4,5,6], "title": "Time (years)"}},
                "y": {"field": "s", "type": "quantitative", "scale": {"domain": [-0.04, 1.04], "nice": false}, "axis": {"values": [0,0.2,0.4,0.6,0.8,1], "format": ".1f", "title": "Survival probability"}}},
   "layer": [
    {"data": {"name": "km"}, "transform": [{"filter": "datum.p == 'G'"}], "mark": {"type": "line", "interpolate": "step-after", "strokeWidth": 2}, "encoding": {"color": {"field": "g", "type": "nominal", "scale": {"domain": ["H","L"], "range": ["#2be02b","#e0304e"]}, "legend": null}, "strokeDash": {"field": "g", "type": "nominal", "scale": {"domain": ["H","L"], "range": [[1,0],[3,4]]}, "legend": null}}},
    {"data": {"name": "cens"}, "transform": [{"filter": "datum.p == 'G'"}], "mark": {"type": "point", "shape": "M-1,0L1,0M0,-1L0,1", "size": 50, "strokeWidth": 1.2, "opacity": 1}, "encoding": {"color": {"field": "g", "type": "nominal", "scale": {"domain": ["H","L"], "range": ["#2be02b","#e0304e"]}, "legend": null}}},
    {"data": {"name": "lab"}, "transform": [{"filter": "datum.p == 'G'"}], "mark": {"type": "text", "fontWeight": "bold", "color": "#000"}, "encoding": {"text": {"field": "label"}, "size": {"field": "k", "type": "nominal", "scale": {"domain": ["p","n"], "range": [21,18]}, "legend": null}}}
   ]},
  {"width": 200, "height": 191,
   "title": {"text": "H\u00a0\u00a0\u00a0\u00a0\u00a0\u00a0\u00a0\u00a0Bild et al. (testing)", "anchor": "start", "frame": "bounds", "fontSize": 21, "offset": 13},
   "encoding": {"x": {"field": "t", "type": "quantitative", "scale": {"domain": [0, 7.46], "nice": false, "zero": false}, "axis": {"values": [0,1,2,3,4,5,6,7], "title": "Time (years)"}},
                "y": {"field": "s", "type": "quantitative", "scale": {"domain": [-0.04, 1.04], "nice": false}, "axis": {"values": [0,0.2,0.4,0.6,0.8,1], "format": ".1f", "title": "Survival probability"}}},
   "layer": [
    {"data": {"name": "km"}, "transform": [{"filter": "datum.p == 'H'"}], "mark": {"type": "line", "interpolate": "step-after", "strokeWidth": 2}, "encoding": {"color": {"field": "g", "type": "nominal", "scale": {"domain": ["H","L"], "range": ["#2be02b","#e0304e"]}, "legend": null}, "strokeDash": {"field": "g", "type": "nominal", "scale": {"domain": ["H","L"], "range": [[1,0],[3,4]]}, "legend": null}}},
    {"data": {"name": "cens"}, "transform": [{"filter": "datum.p == 'H'"}], "mark": {"type": "point", "shape": "M-1,0L1,0M0,-1L0,1", "size": 50, "strokeWidth": 1.2, "opacity": 1}, "encoding": {"color": {"field": "g", "type": "nominal", "scale": {"domain": ["H","L"], "range": ["#2be02b","#e0304e"]}, "legend": null}}},
    {"data": {"name": "lab"}, "transform": [{"filter": "datum.p == 'H'"}], "mark": {"type": "text", "fontWeight": "bold", "color": "#000"}, "encoding": {"text": {"field": "label"}, "size": {"field": "k", "type": "nominal", "scale": {"domain": ["p","n"], "range": [21,18]}, "legend": null}}}
   ]}
 ]}
]
}
